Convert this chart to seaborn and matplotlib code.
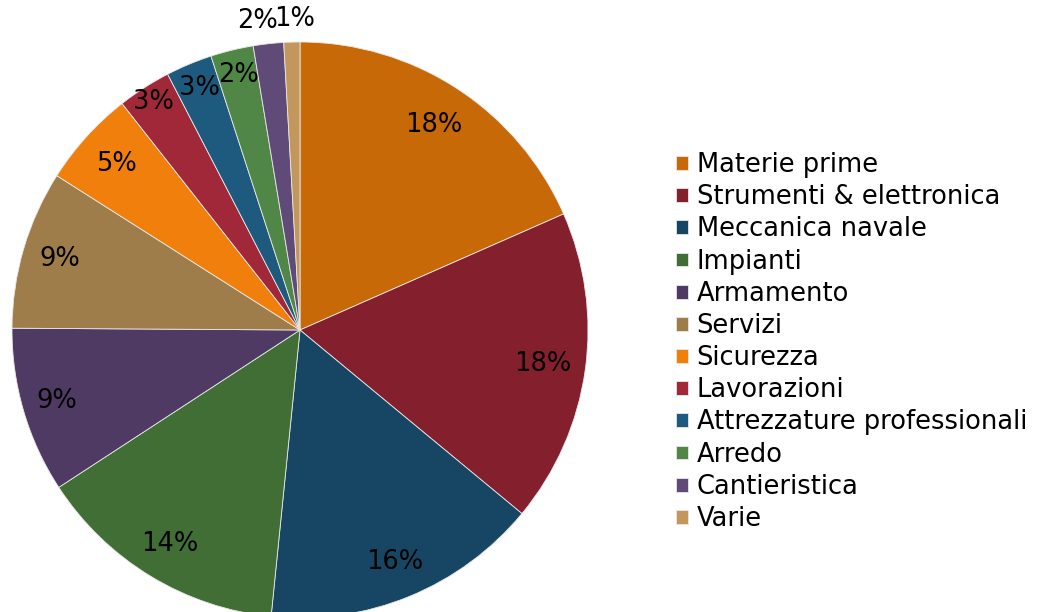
"""
Ripartizione degli acquisti per categoria merceologica (torta).
"""

## Import packages
import matplotlib
matplotlib.use('Agg')
import matplotlib.pyplot as plt
import seaborn as sns
import numpy as np


## Data
categories = ['Materie prime', 'Strumenti & elettronica', 'Meccanica navale',
              'Impianti', 'Armamento', 'Servizi', 'Sicurezza', 'Lavorazioni',
              'Attrezzature professionali', 'Arredo', 'Cantieristica', 'Varie']
shares = [18.4, 17.6, 15.6, 14.2, 9.3, 8.9, 5.4, 3.0, 2.6, 2.4, 1.7, 0.9]

# Slice colours
colors = ['#C66906', '#841F2E', '#174664', '#406E35', '#4F3A63', '#9E7D4B',
          '#F0800B', '#A02838', '#1E5A7D', '#508746', '#604B78', '#C3975B']

# Distance of each percentage label from the centre (fraction of radius)
label_dist = [0.85, 0.85, 0.87, 0.87, 0.88, 0.87, 0.86, 0.94, 0.91, 0.91, 1.08, 1.08]
# small horizontal nudge (fraction of radius) for the crowded top labels
label_dx = [0, 0, 0, 0, 0, 0, 0, 0, 0, 0, -0.03, 0.01]

fsize = 18.5


## Create figure
sns.set_theme(style='white')
plt.rcParams['font.family'] = ['DejaVu Sans']

fig = plt.figure(figsize=(10.42, 6.12), dpi=100)
ax = fig.add_axes([12 / 1042, -6 / 612, 576 / 1042, 576 / 612])

palette = sns.color_palette(colors)
wedges, texts, autotexts = ax.pie(shares, colors=palette, startangle=90,
                                  counterclock=False, autopct='%.0f%%',
                                  pctdistance=0.87,
                                  wedgeprops=dict(linewidth=0.6, edgecolor='#e8e8e8'),
                                  textprops=dict(fontsize=fsize, color='black'))

# Move the percentage labels to their own distance
for w, t, d, dx in zip(wedges, autotexts, label_dist, label_dx):
    ang = np.deg2rad((w.theta1 + w.theta2) / 2)
    t.set_position((d * np.cos(ang) + dx, d * np.sin(ang)))

ax.set_xlim(-1, 1)
ax.set_ylim(-1, 1)
ax.set_aspect('equal')

# Legend on the right
leg = fig.legend(wedges, categories, loc='center left', bbox_to_anchor=(676 / 1042, 1 - 342 / 612),
                 frameon=False, fontsize=fsize, handlelength=0.45, handleheight=0.45,
                 handletextpad=0.35, labelspacing=0.24, borderpad=0, borderaxespad=0)
for txt in leg.get_texts():
    txt.set_color('black')

plt.savefig('out.png', dpi=100)
